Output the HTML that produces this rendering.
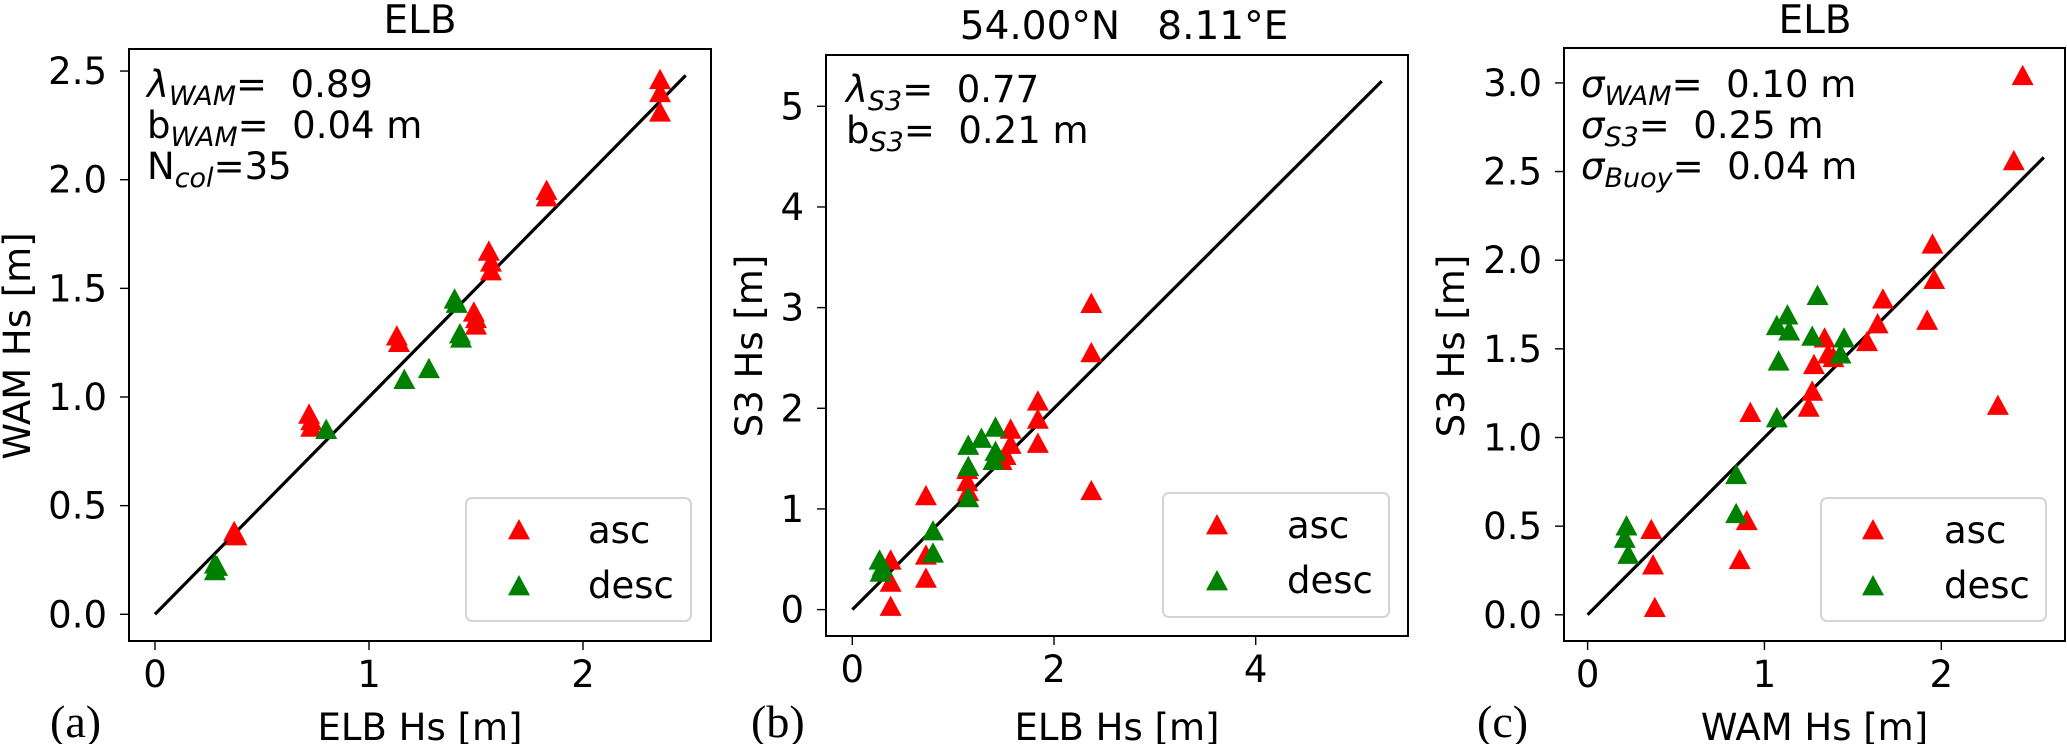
<!DOCTYPE html>
<html><head><meta charset="utf-8"><style>
html,body{margin:0;padding:0;background:#fff;}
svg{display:block;}
text{font-family:"DejaVu Sans","Liberation Sans",sans-serif;fill:#000;white-space:pre;}
.serif{font-family:"Liberation Serif","DejaVu Serif",serif;}
</style></head><body>
<svg id="fig" width="2067" height="744" viewBox="0 0 2067 744" xmlns="http://www.w3.org/2000/svg"></svg>
<script>
// ---- Panel (a): ELB Hs vs WAM Hs ----
const aAscX = [0.37,0.38,0.72,0.73,0.73,1.13,1.14,1.49,1.50,1.50,1.56,1.57,1.57,1.83,1.83,2.36,2.36,2.36];
const aAscY = [0.38,0.36,0.92,0.89,0.86,1.28,1.25,1.39,1.36,1.33,1.67,1.62,1.58,1.95,1.92,2.46,2.40,2.31];
const aDescX = [0.28,0.29,0.28,0.80,1.165,1.28,1.40,1.41,1.425,1.43];
const aDescY = [0.20,0.22,0.23,0.85,1.08,1.13,1.45,1.43,1.29,1.27];
const aXTicks = [0,1,2];
const aXTickLabels = ["0","1","2"];
const aYTicks = [0,0.5,1.0,1.5,2.0,2.5];
const aYTickLabels = ["0.0","0.5","1.0","1.5","2.0","2.5"];
const aLineEnd = 2.48;

// ---- Panel (b): ELB Hs vs S3 Hs ----
const bAscX = [2.37,2.37,2.37,1.84,1.84,1.84,1.57,1.57,1.52,1.48,0.73,0.73,0.73,0.38,0.38,0.38,1.14,1.14,1.15];
const bAscY = [3.04,2.55,1.18,2.07,1.89,1.65,1.79,1.64,1.53,1.48,1.13,0.54,0.31,0.49,0.27,0.03,1.27,1.39,1.17];
const bDescX = [1.42,1.28,1.15,1.42,1.40,1.15,1.15,0.80,0.80,0.27,0.30,0.28];
const bDescY = [1.81,1.70,1.63,1.57,1.48,1.42,1.11,0.78,0.56,0.49,0.42,0.37];
const bXTicks = [0,2,4];
const bXTickLabels = ["0","2","4"];
const bYTicks = [0,1,2,3,4,5];
const bYTickLabels = ["0","1","2","3","4","5"];
const bLineEnd = 5.25;

// ---- Panel (c): WAM Hs vs S3 Hs ----
const cAscX = [2.46,2.41,2.32,1.95,1.96,1.92,1.67,1.64,1.58,1.34,1.36,1.39,1.28,1.27,1.25,0.92,0.90,0.86,0.36,0.37,0.38];
const cAscY = [3.04,2.56,1.18,2.09,1.89,1.66,1.78,1.64,1.54,1.56,1.47,1.45,1.41,1.26,1.17,1.14,0.53,0.31,0.48,0.28,0.04];
const cDescX = [1.30,1.07,1.13,1.14,1.27,1.45,1.43,1.08,1.07,0.84,0.84,0.22,0.21,0.23];
const cDescY = [1.80,1.63,1.69,1.60,1.57,1.56,1.47,1.43,1.11,0.79,0.57,0.50,0.43,0.34];
const cXTicks = [0,1,2];
const cXTickLabels = ["0","1","2"];
const cYTicks = [0,0.5,1.0,1.5,2.0,2.5,3.0];
const cYTickLabels = ["0.0","0.5","1.0","1.5","2.0","2.5","3.0"];
const cLineEnd = 2.58;

const NS = "http://www.w3.org/2000/svg";
const svg = document.getElementById("fig");
function mk(tag, attrs, parent){
  const e = document.createElementNS(NS, tag);
  for (const k in attrs) e.setAttribute(k, attrs[k]);
  (parent||svg).appendChild(e);
  return e;
}
function txt(str, attrs, parent){
  const e = mk("text", attrs, parent);
  e.textContent = str;
  return e;
}
function tri(g, cx, cy, color){
  const h = 11;
  const p = mk("polygon", {points:`${cx},${cy-h} ${cx+h},${cy+h*0.85} ${cx-h},${cy+h*0.85}`, fill:color}, g);
  return p;
}

function panel(cfg){
  const g = mk("g", {});
  
  
  const X = v => cfg.x0 + v*cfg.xs;
  const Y = v => cfg.y0 - v*cfg.ys;
  cfg.xTicks.forEach((t,i)=>{
    const l = mk("line",{x1:X(t),x2:X(t),y1:cfg.bottom,y2:cfg.bottom+9,stroke:"#000","stroke-width":1.4},g);
    
    
    const tl = txt(cfg.xTickLabels[i],{x:X(t),y:cfg.bottom+46,"font-size":37,"text-anchor":"middle"},g);
    
    
  });
  cfg.yTicks.forEach((t,i)=>{
    const l = mk("line",{x1:cfg.left-9,x2:cfg.left,y1:Y(t),y2:Y(t),stroke:"#000","stroke-width":1.4},g);
    
    
    const tl = txt(cfg.yTickLabels[i],{x:cfg.left-22,y:Y(t)+13,"font-size":37,"text-anchor":"end"},g);
    
    
  });
  const ln = mk("line",{x1:X(0),y1:Y(0),x2:X(cfg.lineEnd),y2:Y(cfg.lineEnd),stroke:"#000","stroke-width":3.2},g);
  
  
  cfg.ascX.forEach((v,i)=>{
    const p = tri(g, X(v), Y(cfg.ascY[i]), "#ff0000");
    
    
  });
  cfg.descX.forEach((v,i)=>{
    const p = tri(g, X(v), Y(cfg.descY[i]), "#008000");
    
    
  });
  const fr = mk("rect",{x:cfg.left,y:cfg.top,width:cfg.right-cfg.left,height:cfg.bottom-cfg.top,fill:"none",stroke:"#000","stroke-width":2},g);
  
  
  const lg = mk("g",{},g);
  
  
  mk("rect",{x:cfg.leg[0],y:cfg.leg[1],width:cfg.leg[2]-cfg.leg[0],height:cfg.leg[3]-cfg.leg[1],rx:6,fill:"#fff","fill-opacity":0.8,stroke:"#d4d4d4","stroke-width":2},lg);
  const m1 = tri(lg, cfg.legMx, cfg.leg[1]+32, "#ff0000");
  
  
  const m2 = tri(lg, cfg.legMx, cfg.leg[1]+88, "#008000");
  
  
  const t1 = txt("asc",{x:cfg.legTx,y:cfg.leg[1]+45,"font-size":37},lg);
  
  
  const t2 = txt("desc",{x:cfg.legTx,y:cfg.leg[1]+100,"font-size":37},lg);
  
  
  const tt = txt(cfg.title,{x:cfg.titleX,y:cfg.titleY,"font-size":39,"text-anchor":"middle"},g);
  
  
  const xl = txt(cfg.xlabel,{x:(cfg.left+cfg.right)/2,y:740,"font-size":37,"text-anchor":"middle"},g);
  
  
  const yl = txt(cfg.ylabel,{x:0,y:0,"font-size":37,"text-anchor":"middle",transform:`translate(${cfg.ylabX},346) rotate(-90)`},g);
  
  
  const pl = txt(cfg.letter,{x:cfg.letterX,y:737,"font-size":46,"class":"serif"},g);
  
  
  const an = mk("g",{},g);
  
  
  cfg.ann.forEach((row,i)=>{
    const t = mk("text",{x:cfg.annX,y:cfg.annY+i*41,"font-size":37},an);
    row.forEach(part=>{
      const s = mk("tspan",{},t);
      s.textContent = part[0];
      if (part[1]==="i") s.setAttribute("font-style","italic");
      if (part[1]==="sub"){ s.setAttribute("font-style","italic"); s.setAttribute("font-size","27"); s.setAttribute("dy","8"); }
      if (part[1]==="up"){ s.setAttribute("dy","-8"); }
    });
  });
}

panel({name:"panel-a", left:129,right:711,top:49,bottom:641, x0:155,xs:214, y0:614.3,ys:217.3,
  xTicks:aXTicks,xTickLabels:aXTickLabels,yTicks:aYTicks,yTickLabels:aYTickLabels,lineEnd:aLineEnd,
  ascX:aAscX,ascY:aAscY,descX:aDescX,descY:aDescY,
  leg:[466,498,691,621], legMx:519, legTx:588,
  title:"ELB", titleX:420, titleY:33, xlabel:"ELB Hs [m]", ylabel:"WAM Hs [m]", ylabX:30,
  letter:"(a)", letterX:50, annX:147, annY:97,
  ann:[[["λ","i"],["WAM","sub"],["=  0.89","up"]],[["b"],["WAM","sub"],["=  0.04 m","up"]],[["N"],["col","sub"],["=35","up"]]]});

panel({name:"panel-b", left:826,right:1408,top:55,bottom:636, x0:852.3,xs:100.85, y0:609.6,ys:100.66,
  xTicks:bXTicks,xTickLabels:bXTickLabels,yTicks:bYTicks,yTickLabels:bYTickLabels,lineEnd:bLineEnd,
  ascX:bAscX,ascY:bAscY,descX:bDescX,descY:bDescY,
  leg:[1163,493,1389,617], legMx:1217, legTx:1287,
  title:"54.00°N   8.11°E", titleX:1124, titleY:39, xlabel:"ELB Hs [m]", ylabel:"S3 Hs [m]", ylabX:762,
  letter:"(b)", letterX:751, annX:846, annY:102,
  ann:[[["λ","i"],["S3","sub"],["=  0.77","up"]],[["b"],["S3","sub"],["=  0.21 m","up"]]]});

panel({name:"panel-c", left:1564,right:2065,top:48,bottom:641, x0:1587.6,xs:176.85, y0:614.8,ys:177.3,
  xTicks:cXTicks,xTickLabels:cXTickLabels,yTicks:cYTicks,yTickLabels:cYTickLabels,lineEnd:cLineEnd,
  ascX:cAscX,ascY:cAscY,descX:cDescX,descY:cDescY,
  leg:[1821,498,2046,621], legMx:1873, legTx:1944,
  title:"ELB", titleX:1815, titleY:33, xlabel:"WAM Hs [m]", ylabel:"S3 Hs [m]", ylabX:1464,
  letter:"(c)", letterX:1477, annX:1581, annY:97,
  ann:[[["σ","i"],["WAM","sub"],["=  0.10 m","up"]],[["σ","i"],["S3","sub"],["=  0.25 m","up"]],[["σ","i"],["Buoy","sub"],["=  0.04 m","up"]]]});
</script>
</body></html>
